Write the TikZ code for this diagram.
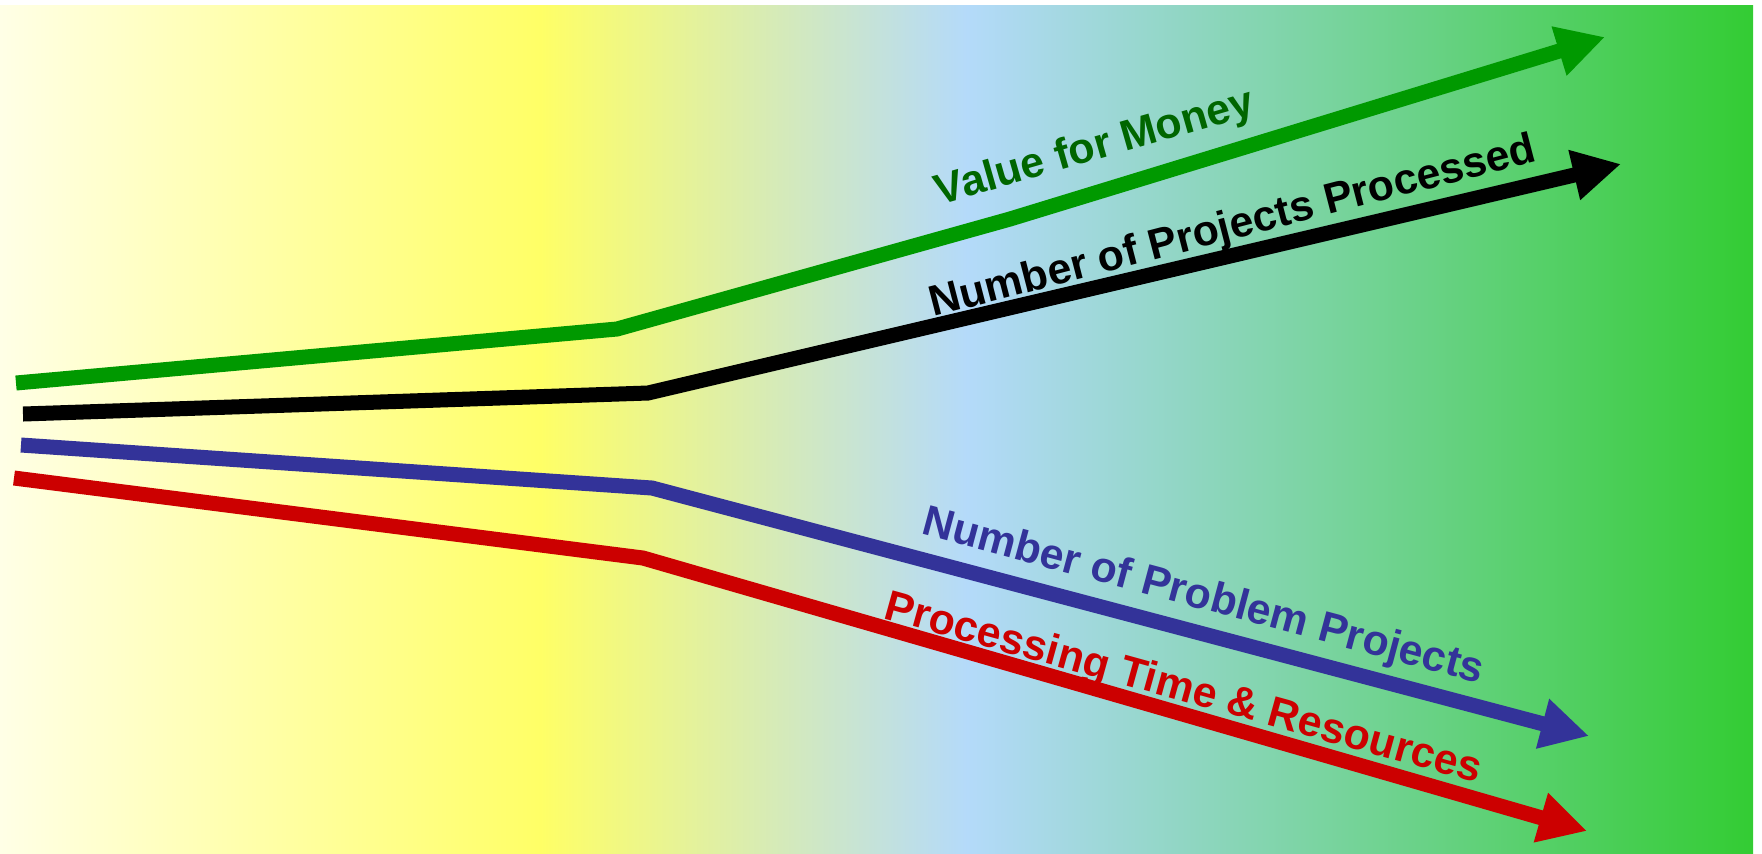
\documentclass[tikz,border=0pt]{standalone}
\usepackage{fontspec}
\setmainfont{Liberation Sans}
\usetikzlibrary{arrows.meta}

\definecolor{paleyellow}{RGB}{255,255,230}
\definecolor{brightyellow}{RGB}{255,255,102}
\definecolor{skyblue}{RGB}{180,218,250}
\definecolor{grassgreen}{RGB}{51,204,51}
\definecolor{moneygreen}{RGB}{0,153,0}
\definecolor{moneytext}{RGB}{0,102,0}
\definecolor{problemblue}{RGB}{51,51,153}
\definecolor{timered}{RGB}{204,0,0}

\begin{document}
\begin{tikzpicture}[x=0.01cm,y=-0.01cm]
			\tikzstyle{trend}=[line width=0.15cm,-{Triangle[length=0.48cm,width=0.48cm]}]
			\tikzstyle{label}=[font=\fontsize{12.2}{14}\selectfont\bfseries,inner sep=0pt]
			\useasboundingbox (0,0) rectangle (1762,853);
			% background
			\shade[left color=paleyellow,right color=brightyellow] (0,5) rectangle (541,853);
			\shade[left color=brightyellow,right color=skyblue] (540,5) rectangle (968,853);
			\shade[left color=skyblue,right color=grassgreen] (967,5) rectangle (1753,853);
			% points of the trends
			\coordinate (v0) at (16,383);
			\coordinate (v1) at (617,329);
			\coordinate (v2) at (1010,219);
			\coordinate (v3) at (1605,37);
			\coordinate (n0) at (23,414);
			\coordinate (n1) at (648,393);
			\coordinate (n2) at (1621,164);
			\coordinate (p0) at (21,445);
			\coordinate (p1) at (652,488);
			\coordinate (p2) at (1589,736);
			\coordinate (t0) at (14,478);
			\coordinate (t1) at (643,558);
			\coordinate (t2) at (1587,831);
			\draw[trend,moneygreen] (v0) -- (v1) -- (v2) -- (v3);
			\draw[trend,black] (n0) -- (n1) -- (n2);
			\draw[trend,problemblue] (p0) -- (p1) -- (p2);
			\draw[trend,timered] (t0) -- (t1) -- (t2);
			% labels
			\node[label,moneytext,rotate=16] (money) at (1095,149) {Value for Money};
			\node[label,black,rotate=14.5] (projects) at (1233,228) {Number of Projects Processed};
			\node[label,problemblue,rotate=-15] (problems) at (1203,598) {Number of Problem Projects};
			\node[label,timered,rotate=-15.5] (resources) at (1183,690) {Processing Time \& Resources};
		\end{tikzpicture}
\end{document}
